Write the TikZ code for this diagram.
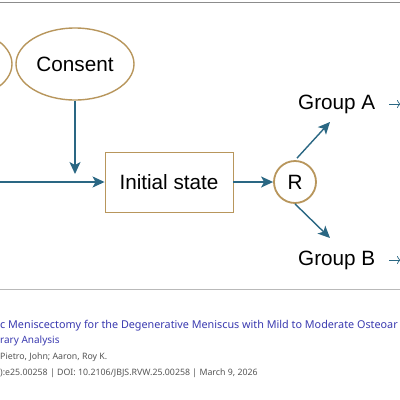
\documentclass[tikz,border=0pt]{standalone}
\usepackage{fontspec}
\setmainfont{Liberation Sans}
\newfontfamily\capfont{Noto Sans}
\usetikzlibrary{arrows.meta,shapes.geometric}
\definecolor{teal}{HTML}{2A6783}
\definecolor{tan}{HTML}{B8965C}
\definecolor{capblue}{HTML}{3A3AB0}
\definecolor{capgray}{HTML}{555555}
\tikzset{
  oval/.style={ellipse,draw=tan,line width=1.4pt,minimum width=118pt,minimum height=72pt,inner sep=0pt,font=\fontsize{20.7}{24}\selectfont},
  box/.style={rectangle,draw=tan,line width=0.9pt,minimum width=128pt,minimum height=60pt,inner sep=0pt,font=\fontsize{20.7}{24}\selectfont},
  rnode/.style={circle,draw=tan,line width=1.8pt,minimum size=42pt,inner sep=0pt,font=\fontsize{20.7}{24}\selectfont},
  grp/.style={inner sep=0pt,font=\fontsize{20.7}{24}\selectfont},
  conn/.style={draw=teal,line width=1.4pt,-{Stealth[length=12pt,width=11pt,inset=3pt]}},
  thin/.style={draw=teal,line width=0.7pt,-{To[length=4pt,width=8pt]}},
  capline/.style={anchor=base west,inner sep=0pt},
}
\begin{document}
\begin{tikzpicture}[x=1pt,y=-1pt]
\useasboundingbox (0,0) rectangle (400,400);
\fill[white] (0,0) rectangle (400,400);
\clip (0,0) rectangle (400,400);
\draw[gray!90,line width=1.6pt] (0,2.5) -- (400,2.5);
\draw[gray!55,line width=1.6pt] (0,289.5) -- (400,289.5);
\node[oval] (left) at (-47,64) {};
\node[oval] (consent) at (75,64) {Consent};
\node[box] (init) at (169,182) {Initial state};
\node[rnode] (r) at (295,182) {R};
\node[grp,anchor=west] (ga) at (298,104) {Group A};
\node[grp,anchor=west] (gb) at (298,260) {Group B};
\coordinate (in) at (-5,182);
\coordinate (ja) at (75,174);
\coordinate (ta) at (330,122);
\coordinate (tb) at (330,238);
\coordinate (sa) at (389,104);
\coordinate (sb) at (389,260);
\coordinate (ea) at (401,104);
\coordinate (eb) at (401,260);
\draw[conn] (consent.south) -- (ja);
\draw[conn] (in) -- (init.west);
\draw[conn] (init.east) -- (r.west);
\draw[conn] (r.north) ++(2,-2) -- (ta);
\draw[conn] (r.south) -- (tb);
\draw[thin] (sa) -- (ea);
\draw[thin] (sb) -- (eb);
\node[capline,text=capblue,font=\capfont\fontsize{10.8}{13}\selectfont] (c1) at (0,328) {c Meniscectomy for the Degenerative Meniscus with Mild to Moderate Osteoar};
\node[capline,text=capblue,font=\capfont\fontsize{10}{13}\selectfont] (c2) at (0,343) {rary Analysis};
\node[capline,text=capgray,font=\capfont\fontsize{8.8}{11}\selectfont] (c3) at (0,359) {Pietro, John; Aaron, Roy K.};
\node[capline,text=capgray,font=\capfont\fontsize{8.8}{11}\selectfont] (c4) at (0,375) {):e25.00258 | DOI: 10.2106/JBJS.RVW.25.00258 | March 9, 2026};
\end{tikzpicture}
\end{document}
